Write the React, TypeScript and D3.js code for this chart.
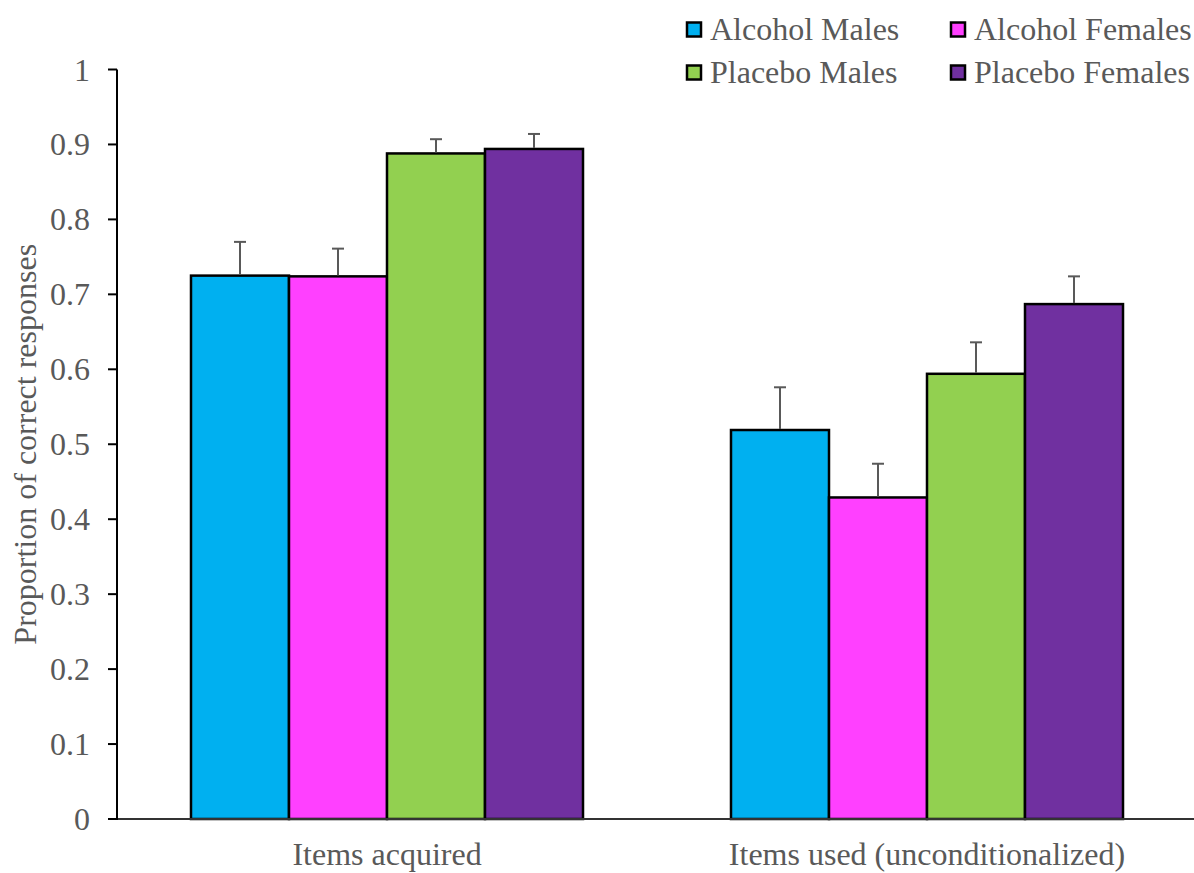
import React from "react";
import * as d3 from "d3";

// Grouped bar chart: proportion of correct responses by condition and sex.
const categories = ["Items acquired", "Items used (unconditionalized)"];
const seriesNames = ["Alcohol Males", "Alcohol Females", "Placebo Males", "Placebo Females"];
const seriesColors = ["#00B0F0", "#FF40FF", "#92D050", "#7030A0"];
// means per series, in category order
const alcoholMales = [0.725, 0.519];
const alcoholFemales = [0.724, 0.429];
const placeboMales = [0.888, 0.594];
const placeboFemales = [0.894, 0.687];
// upper error (mean + SE)
const alcoholMalesErr = [0.770, 0.576];
const alcoholFemalesErr = [0.761, 0.474];
const placeboMalesErr = [0.907, 0.636];
const placeboFemalesErr = [0.914, 0.724];
const yTicks = [0, 0.1, 0.2, 0.3, 0.4, 0.5, 0.6, 0.7, 0.8, 0.9, 1];
const yTitle = "Proportion of correct responses";

const values = [alcoholMales, alcoholFemales, placeboMales, placeboFemales];
const errs = [alcoholMalesErr, alcoholFemalesErr, placeboMalesErr, placeboFemalesErr];

const W = 1194;
const H = 873;
const FONT = '"Liberation Serif", "DejaVu Serif", serif';
const TEXT = "#595959";
const FS = 32;

export default function App() {
  const x0 = d3.scaleBand<string>().domain(categories).range([117, 1197]).padding(0);
  const x1 = d3
    .scaleBand<string>()
    .domain(seriesNames)
    .range([0, x0.bandwidth()])
    .paddingInner(0)
    .paddingOuter(0.755);
  const y = d3.scaleLinear().domain([0, 1]).range([819, 69.5]);

  const legendPos = [
    { x: 687, y: 30 },
    { x: 951, y: 30 },
    { x: 687, y: 73 },
    { x: 951, y: 73 },
  ];

  const textStyle = { fontFamily: FONT };

  return (
    <svg
      width={W}
      height={H}
      style={{ position: "absolute", left: 0, top: 0, background: "#fff", fontFamily: FONT }}
    >
      <rect width={W} height={H} fill="#fff" />
      {/* bars */}
      {categories.map((c, ci) => (
        <g key={c} transform={`translate(${x0(c)},0)`}>
          {seriesNames.map((s, si) => {
            const v = values[si][ci];
            return (
              <rect
                key={s}
                x={x1(s)}
                y={y(v)}
                width={x1.bandwidth()}
                height={y(0) - y(v)}
                fill={seriesColors[si]}
                stroke="#000"
                strokeWidth={2.5}
              />
            );
          })}
          {seriesNames.map((s, si) => {
            const v = values[si][ci];
            const e = errs[si][ci];
            const cx = (x1(s) as number) + x1.bandwidth() / 2;
            return (
              <g key={s + "-err"} stroke="#595959" strokeWidth={2}>
                <line x1={cx} x2={cx} y1={y(v) - 1} y2={y(e)} />
                <line x1={cx - 6} x2={cx + 6} y1={y(e)} y2={y(e)} />
              </g>
            );
          })}
        </g>
      ))}

      {/* x axis */}
      <line x1={117} x2={W} y1={y(0)} y2={y(0)} stroke="#333" strokeWidth={2} />
      {categories.map((c) => (
        <text
          key={c}
          x={(x0(c) as number) + x0.bandwidth() / 2}
          y={865}
          textAnchor="middle"
          fontSize={FS}
          fill={TEXT}
          style={textStyle}
        >
          {c}
        </text>
      ))}

      {/* y axis */}
      <line x1={117} x2={117} y1={y(1)} y2={y(0) + 1} stroke="#000" strokeWidth={2} />
      {yTicks.map((t) => (
        <g key={t}>
          <line x1={108} x2={117} y1={y(t)} y2={y(t)} stroke="#000" strokeWidth={2} />
          <text x={90} y={y(t) + 11} textAnchor="end" fontSize={FS} fill={TEXT} style={textStyle}>
            {d3.format("~g")(t)}
          </text>
        </g>
      ))}
      <text
        transform={`translate(36,${(y(0) + y(1)) / 2}) rotate(-90)`}
        textAnchor="middle"
        fontSize={FS}
        fill={TEXT}
        style={textStyle}
      >
        {yTitle}
      </text>

      {/* legend */}
      {seriesNames.map((s, i) => (
        <g key={s} transform={`translate(${legendPos[i].x},${legendPos[i].y})`}>
          <rect x={0} y={-7.5} width={14} height={14} fill={seriesColors[i]} stroke="#000" strokeWidth={2.5} />
          <text x={23} y={10} fontSize={FS} fill={TEXT} style={textStyle}>
            {s}
          </text>
        </g>
      ))}
    </svg>
  );
}
